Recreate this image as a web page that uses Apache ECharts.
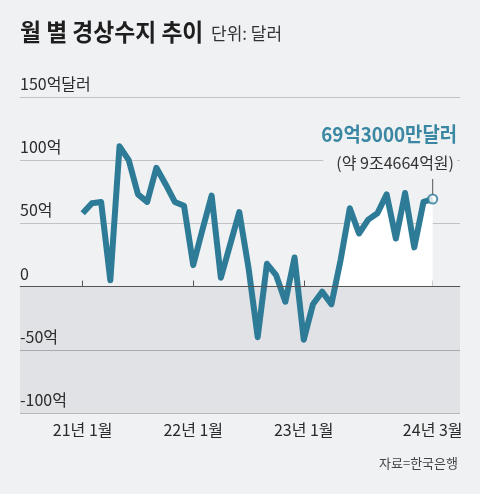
<!DOCTYPE html>
<html>
<head>
<meta charset="utf-8">
<script src="https://cdn.jsdelivr.net/npm/echarts@6/dist/echarts.min.js"></script>
<style>
html,body{margin:0;padding:0;background:#f0f1f3;}
#c{width:480px;height:494px;}
</style>
</head>
<body>
<div id="c"></div>
<script>
// ---- data ----
const months = [
  '21년 1월','21년 2월','21년 3월','21년 4월','21년 5월','21년 6월','21년 7월','21년 8월','21년 9월','21년 10월','21년 11월','21년 12월',
  '22년 1월','22년 2월','22년 3월','22년 4월','22년 5월','22년 6월','22년 7월','22년 8월','22년 9월','22년 10월','22년 11월','22년 12월',
  '23년 1월','23년 2월','23년 3월','23년 4월','23년 5월','23년 6월','23년 7월','23년 8월','23년 9월','23년 10월','23년 11월','23년 12월',
  '24년 1월','24년 2월','24년 3월'
];
// 경상수지 (억 달러)
const balance = [
  58, 66, 67, 5, 111, 100, 73, 67, 94, 81, 67, 64,
  17, 45, 72, 7, 33, 59, 15, -40, 18, 9, -12, 23,
  -42, -14, -4, -14, 21, 62, 42, 53, 58, 73, 38, 74,
  31, 67, 69.3
];
const labeledMonths = ['21년 1월', '22년 1월', '23년 1월', '24년 3월'];
const yTickValues = [-100, -50, 0, 50, 100, 150];
const yTickLabels = ['-100억', '-50억', '0', '50억', '100억', '150억달러'];
const titleText = '월 별 경상수지 추이';
const unitText = '단위: 달러';
const calloutMain = '69억3000만달러';
const calloutSub = '(약 9조4664억원)';
const sourceText = '자료=한국은행';

// ---- derived ----
const FONT = '"Noto Sans CJK KR", "Noto Sans", sans-serif';
const LINE = '#2d7b97';
const tickIdx = labeledMonths.map(m => months.indexOf(m));
const lineData = balance.map((v, i) => [i, v]);
// white fill under the final positive run (from last zero crossing to the end)
let startIdx = balance.length - 1;
while (startIdx > 0 && balance[startIdx - 1] >= 0) startIdx--;
const whiteData = [];
if (startIdx > 0) {
  const a = balance[startIdx - 1], b = balance[startIdx];
  whiteData.push([startIdx - 1 + (0 - a) / (b - a), 0]);
}
for (let i = startIdx; i < balance.length; i++) whiteData.push([i, balance[i]]);
const lastIdx = balance.length - 1;

const chart = echarts.init(document.getElementById('c'), null, {renderer: 'canvas'});
const option = {
  backgroundColor: '#f0f1f3',
  animation: false,
  grid: {left: 20, right: 20, top: 97, bottom: 81},
  xAxis: {
    type: 'value',
    min: -6.807,
    max: 40.964,
    axisLine: {show: true, lineStyle: {color: '#b4b4b6', width: 1}},
    axisTick: {show: true, inside: true, length: 6, customValues: tickIdx, lineStyle: {color: '#555', width: 1}},
    axisLabel: {
      customValues: tickIdx,
      formatter: v => months[Math.round(v)],
      margin: 9, color: '#2a2a2a', fontSize: 16, fontFamily: FONT
    },
    splitLine: {show: false}
  },
  yAxis: {
    type: 'value',
    min: yTickValues[0],
    max: yTickValues[yTickValues.length - 1],
    interval: 50,
    axisLine: {show: false},
    axisTick: {show: false},
    axisLabel: {
      inside: true, margin: 0, align: 'left', verticalAlign: 'bottom',
      padding: [0, 0, 5, 0],
      color: '#2a2a2a', fontSize: 16, fontFamily: FONT,
      formatter: v => yTickLabels[yTickValues.indexOf(v)]
    },
    splitLine: {show: true, lineStyle: {color: ['#b9b9bb', '#a8a9ac', '#555', '#c3c3c5', '#c3c3c5', '#c3c3c5'], width: 1}},
    splitArea: {show: true, areaStyle: {color: ['#e1e2e5', '#e1e2e5', 'rgba(0,0,0,0)', 'rgba(0,0,0,0)', 'rgba(0,0,0,0)']}}
  },
  series: [
    {
      type: 'line',
      data: lineData,
      showSymbol: false,
      symbol: 'none',
      lineStyle: {color: LINE, width: 6, join: 'round'},
      z: 4,
      silent: true
    },
    {
      type: 'line',
      data: whiteData,
      showSymbol: false,
      symbol: 'none',
      lineStyle: {width: 0, opacity: 0},
      areaStyle: {color: '#ffffff', opacity: 1},
      z: 2,
      silent: true,
      markLine: {
        silent: true, symbol: 'none', label: {show: false},
        lineStyle: {color: '#555', width: 1, type: 'solid'},
        data: [{yAxis: 0}]
      }
    },
    {
      type: 'scatter',
      data: [[lastIdx, balance[lastIdx]]],
      symbol: 'circle',
      symbolSize: 9,
      itemStyle: {color: '#ffffff', borderColor: LINE, borderWidth: 2},
      z: 5,
      silent: true
    }
  ]
};
chart.setOption(option);

const p = chart.convertToPixel({seriesIndex: 2}, [lastIdx, balance[lastIdx]]);
chart.setOption({
  graphic: [
    {type: 'text', x: 20, y: 32, scaleX: 0.95, z: 100,
      style: {text: titleText, font: 'bold 24px ' + FONT, fill: '#1e1e1e', align: 'left', verticalAlign: 'middle'}},
    {type: 'text', x: 211, y: 34, z: 100,
      style: {text: unitText, font: '17px ' + FONT, fill: '#333', align: 'left', verticalAlign: 'middle'}},
    {type: 'text', x: 457, y: 163, z: 100,
      style: {text: calloutSub, font: '16px ' + FONT, fill: '#333', align: 'right', verticalAlign: 'middle',
        backgroundColor: '#f0f1f3', padding: [3, 3, 3, 13]}},
    {type: 'text', x: 457, y: 134, scaleX: 0.94, z: 100,
      style: {text: calloutMain, font: 'bold 20px ' + FONT, fill: '#3a87a3', align: 'right', verticalAlign: 'middle'}},
    {type: 'line', z: 100,
      shape: {x1: p[0], y1: p[1] - 20, x2: p[0], y2: p[1] - 4.5},
      style: {stroke: '#555', lineWidth: 1}},
    {type: 'text', x: 458, y: 463, z: 100,
      style: {text: sourceText, font: '13px ' + FONT, fill: '#444', align: 'right', verticalAlign: 'middle'}}
  ]
});
</script>
</body>
</html>
